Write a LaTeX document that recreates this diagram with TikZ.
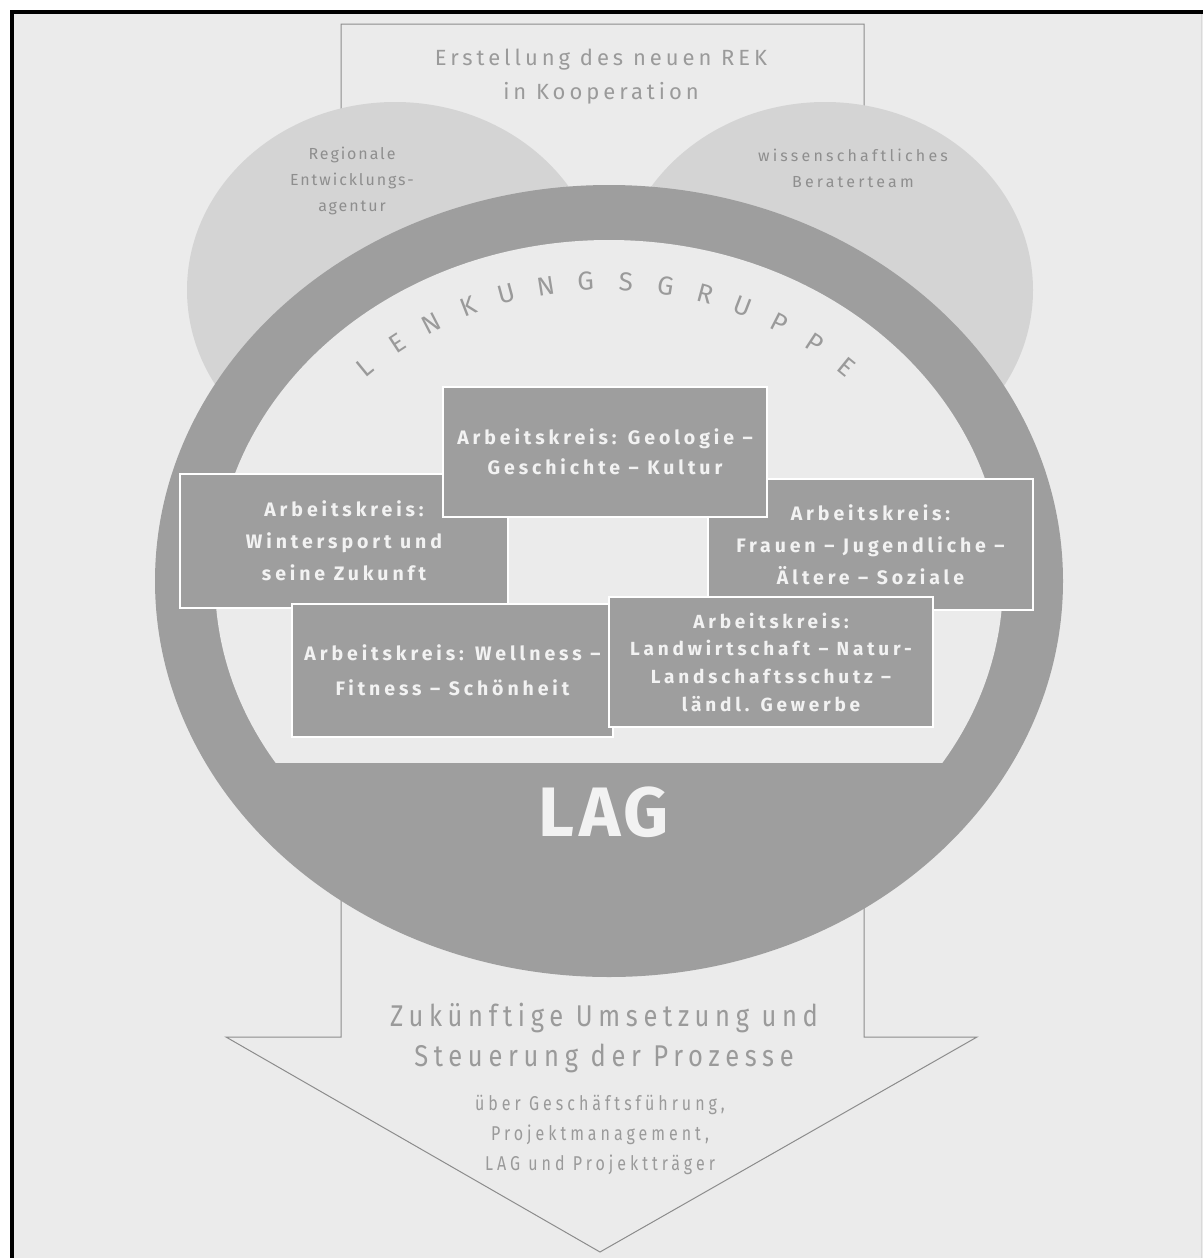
\documentclass[tikz,border=0pt]{standalone}
\usepackage{fontspec}
\setmainfont{Fira Sans}
\newfontfamily\boxfont[LetterSpace=20]{Fira Sans}
\newfontfamily\topfont[LetterSpace=18]{Fira Sans}
\newfontfamily\ellfont[LetterSpace=12]{Fira Sans}
\newfontfamily\ellwidefont[LetterSpace=20]{Fira Sans}
\newfontfamily\condfont[FakeStretch=0.85,LetterSpace=19]{Fira Sans}
\newfontfamily\smallcondfont[FakeStretch=0.8,LetterSpace=20]{Fira Sans}
\newfontfamily\arcfont{Fira Sans}
\newfontfamily\lagfont[LetterSpace=6]{Fira Sans}
\definecolor{bgc}{HTML}{EBEBEB}
\definecolor{ellc}{HTML}{D4D4D4}
\definecolor{ringc}{HTML}{9E9E9E}
\definecolor{boxtxt}{HTML}{F2F2F2}
\definecolor{graytxt}{HTML}{9A9A9A}
\definecolor{elltxt}{HTML}{8E8E8E}
\definecolor{arrowc}{HTML}{8C8C8C}
\begin{document}
\begin{tikzpicture}[x=1pt,y=-1pt,
  akbox/.style={draw=white, line width=1.2pt, fill=ringc, inner sep=0pt, align=center,
    text=boxtxt, font=\boxfont\bfseries\fontsize{19.5}{32}\selectfont},
  elltext/.style={align=center, text=elltxt, font=\ellfont\fontsize{16}{26}\selectfont},
  toptext/.style={align=center, text=graytxt, font=\topfont\fontsize{22}{34}\selectfont},
  arctext/.style={text=graytxt, font=\arcfont\fontsize{26}{26}\selectfont, inner sep=0pt},
  bigtext/.style={align=center, text=graytxt, font=\condfont\fontsize{30}{40}\selectfont},
  smalltext/.style={align=center, text=graytxt, font=\smallcondfont\fontsize{20}{30}\selectfont},
  arrowline/.style={draw=arrowc, line width=1pt}]
\useasboundingbox (0,0) rectangle (1203,1258);
\fill[white] (0,0) rectangle (1203,1258);
\fill[bgc] (12,12) rectangle (1203,1258);
\draw[black, line width=4pt] (12,1258) -- (12,11.5) -- (1203,11.5);
\draw[white!85!black, line width=1pt] (1201,14) -- (1201,1258);
% big arrow
\draw[arrowline, fill=bgc] (341,24) -- (864,24) -- (864,1037) -- (977,1037) -- (600,1252)
  -- (226,1037) -- (341,1037) -- cycle;
% ellipses
\fill[ellc] (395,290) ellipse [x radius=208, y radius=188];
\fill[ellc] (825,290) ellipse [x radius=208, y radius=188];
% ring
\fill[ringc] (609,581) ellipse [x radius=454, y radius=396];
\begin{scope}
  \clip (0,0) rectangle (1203,762);
  \fill[bgc] (609,581) ellipse [x radius=394, y radius=341];
\end{scope}
% texts at top
\node[toptext] (rek) at (601,77) {Erstellung des neuen REK\\in Kooperation};
\node[elltext] (rea) at (352,181) {Regionale\\Entwicklungs-\\agentur};
\node[elltext, font=\ellwidefont\fontsize{16}{26}\selectfont] (wbt) at (853,168) {wissenschaftliches\\Beraterteam};
% LENKUNGSGRUPPE
\foreach \ch [count=\i from 0] in {L,E,N,K,U,N,G,S,G,R,U,P,P,E} {
  \pgfmathsetmacro\ang{129.3-6.04*\i}
  \node[arctext, rotate=\ang-90] (lk\i) at ({606+381*cos(\ang)},{662-381*sin(\ang)}) {\ch};
}
% boxes
\node[akbox, minimum width=328pt, minimum height=134pt] (ak2) at (344,541)
  {Arbeitskreis:\\Wintersport und\\seine Zukunft};
\node[akbox, minimum width=325pt, minimum height=131pt] (ak3) at (870.5,544.5)
  {Arbeitskreis:\\Frauen – Jugendliche –\\Ältere – Soziale};
\node[akbox, minimum width=324pt, minimum height=130pt, font=\boxfont\bfseries\fontsize{19.5}{30}\selectfont] (ak1) at (605,452)
  {Arbeitskreis: Geologie –\\Geschichte – Kultur};
\node[akbox, minimum width=321pt, minimum height=133pt, font=\boxfont\bfseries\fontsize{19.5}{35}\selectfont] (ak4) at (452.5,670.5)
  {Arbeitskreis: Wellness –\\Fitness – Schönheit};
\node[akbox, minimum width=324pt, minimum height=130pt, font=\boxfont\bfseries\fontsize{19}{27.7}\selectfont] (ak5) at (771,662)
  {Arbeitskreis:\\Landwirtschaft – Natur-\\Landschaftsschutz –\\ländl. Gewerbe};
% LAG
\node[text=boxtxt, font=\lagfont\bfseries\fontsize{70}{70}\selectfont] (lag) at (604,812) {LAG};
% bottom texts
\node[bigtext] (zuk) at (604,1038) {Zukünftige Umsetzung und\\Steuerung der Prozesse};
\node[smalltext] (ueb) at (600,1135) {über Geschäftsführung,\\Projektmanagement,\\LAG und Projektträger};
\end{tikzpicture}
\end{document}
